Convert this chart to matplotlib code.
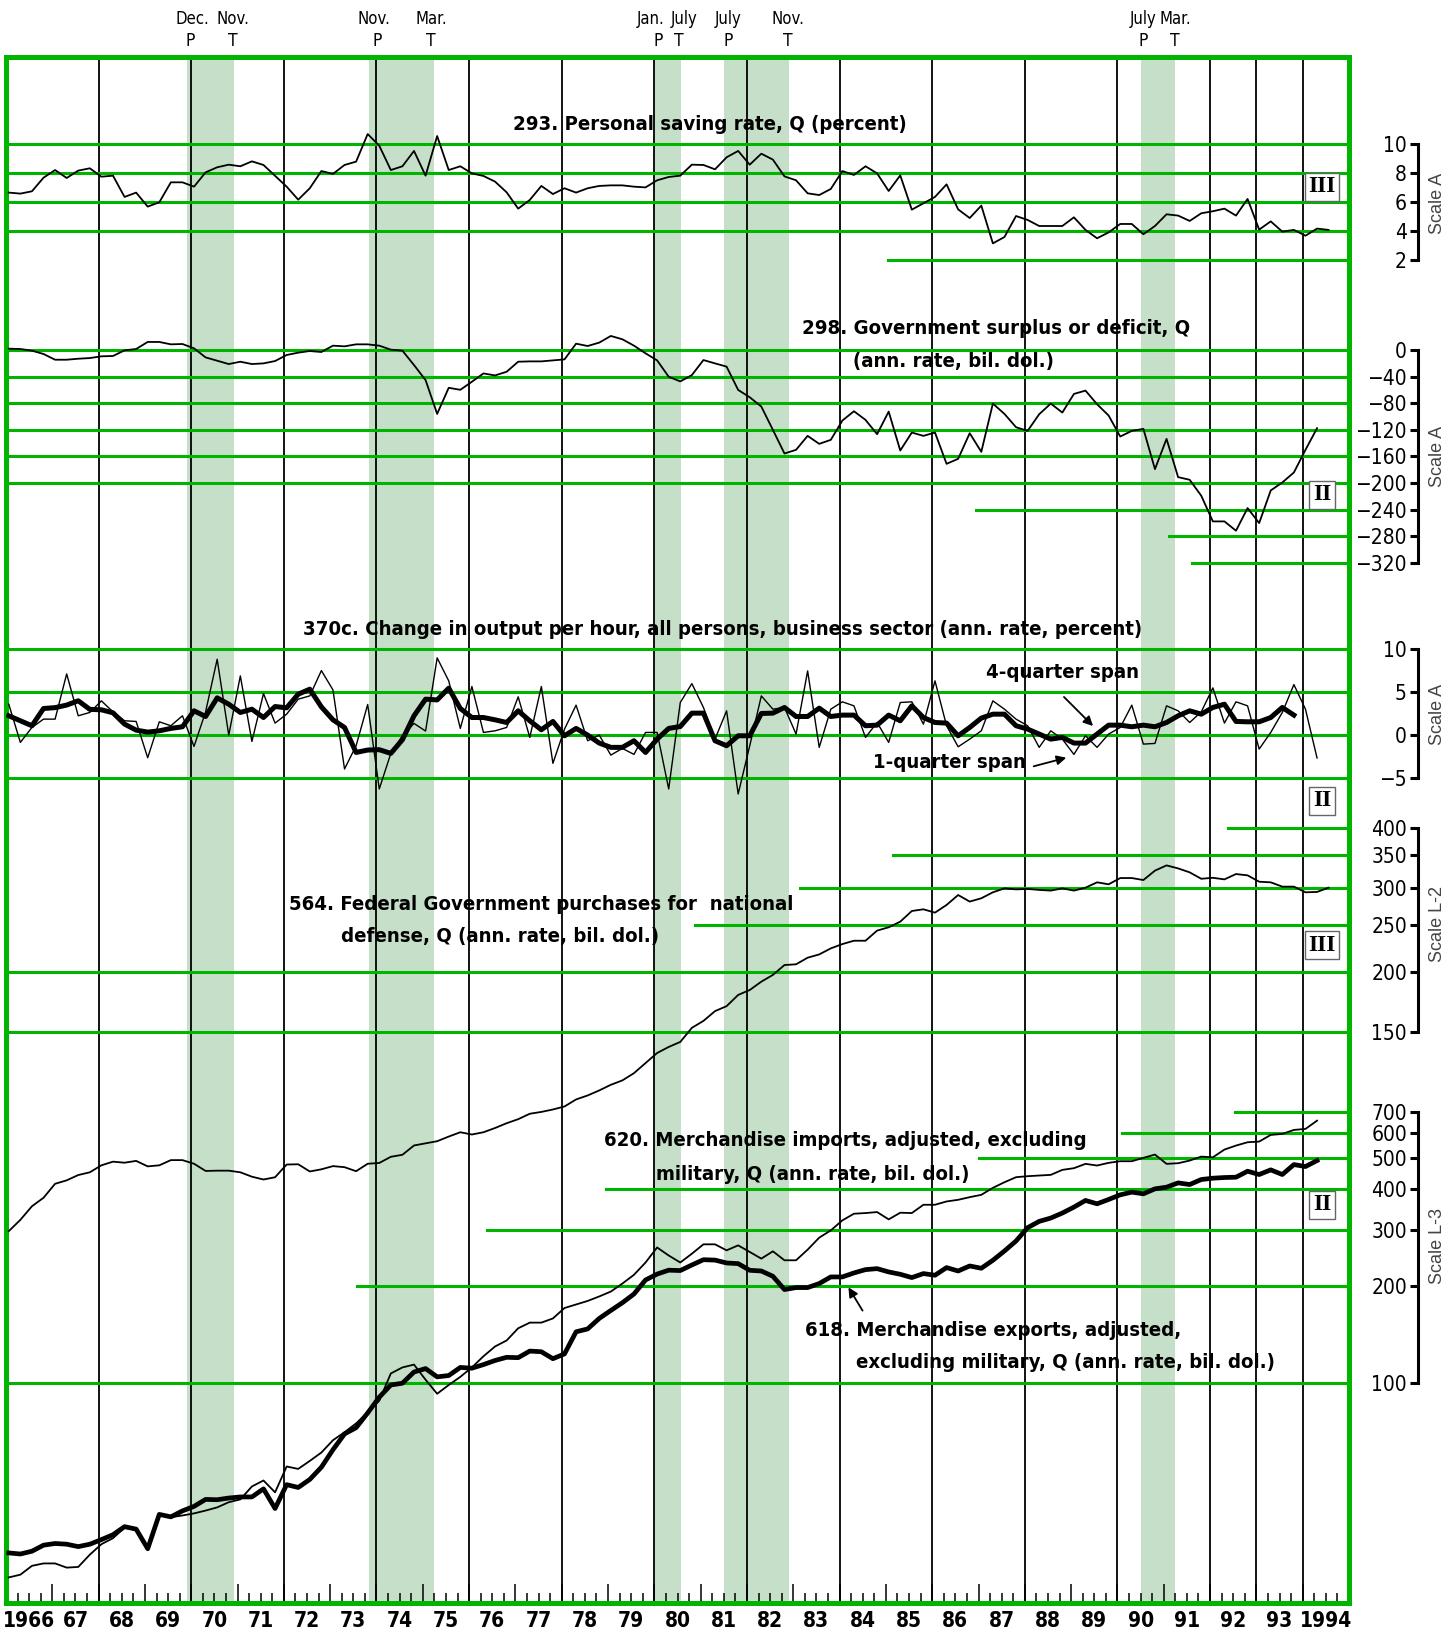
import os
import matplotlib.pyplot as plt
import matplotlib.transforms as mtransforms
from matplotlib import font_manager as fm
from matplotlib.ticker import NullLocator
import numpy as np

# ---- data: quarterly, starting 1966 Q1 ----
saving_rate = [6.64, 6.57, 6.73, 7.67, 8.2, 7.65, 8.16, 8.32, 7.74, 7.81, 6.34, 6.64,
               5.67, 5.97, 7.35, 7.35, 7.05, 8.04, 8.39, 8.57, 8.46, 8.8, 8.55, 7.8,
               7.05, 6.15, 6.94, 8.13, 7.93, 8.55, 8.78, 10.69, 9.88, 8.2, 8.46, 9.52,
               7.81, 10.55, 8.2, 8.46, 7.97, 7.79, 7.4, 6.66, 5.53, 6.13, 7.1, 6.54,
               6.94, 6.64, 6.94, 7.1, 7.14, 7.14, 7.05, 7.0, 7.49, 7.72, 7.81, 8.57,
               8.55, 8.25, 9.08, 9.52, 8.57, 9.33, 8.92, 7.76, 7.49, 6.59, 6.47, 6.89,
               8.13, 7.86, 8.46, 7.97, 6.75, 7.83, 5.46, 5.9, 6.34, 7.21, 5.48, 4.88,
               5.74, 3.13, 3.57, 5.02, 4.75, 4.33, 4.33, 4.33, 4.93, 4.06, 3.48, 3.89,
               4.47, 4.47, 3.76, 4.33, 5.14, 5.05, 4.68, 5.21, 5.35, 5.53, 5.05, 6.2,
               4.08, 4.65, 3.94, 4.06, 3.66, 4.15, 4.06]

gov_surplus = [2.0, 1.5, -1.0, -6.0, -14.6, -14.6, -13.1, -12.1, -9.5, -9.0, -0.5, 1.5,
               12.1, 12.1, 8.5, 9.0, 2.5, -11.1, -16.1, -21.1, -17.6, -21.1, -20.1, -16.6,
               -7.5, -4.0, -1.5, -3.0, 6.5, 5.5, 8.5, 8.5, 6.5, 0.5, -1.0, -22.6,
               -45.2, -96.0, -56.8, -59.8, -47.7, -35.2, -38.2, -32.7, -17.6, -17.1, -17.1, -15.6,
               -14.1, 9.5, 6.0, 11.1, 21.1, 16.1, 6.5, -5.0, -15.6, -40.2, -47.2, -37.7,
               -15.1, -20.1, -25, -60, -71, -85, -120, -155.5, -150, -129, -141, -135,
               -106, -92, -105, -126.5, -92.5, -151, -124, -129, -124, -171, -163.5, -125,
               -153, -80.5, -96, -116, -121.5, -96.5, -80.5, -94, -66, -61, -81.5, -98.5,
               -130, -121.5, -118.5, -179, -133.5, -191, -195, -219, -257.5, -257.5, -271.5, -237.5,
               -260, -211, -199, -184, -150, -117.5]

output_1q = [3.6, -0.85, 0.89, 1.86, 1.86, 7.13, 2.25, 2.64, 3.99, 2.71, 1.67, 1.59,
             -2.64, 1.55, 1.09, 2.25, -1.32, 2.71, 8.84, 0.0, 6.9, -0.74, 4.84, 1.4,
             2.44, 4.19, 4.57, 7.52, 5.27, -3.95, -1.24, 3.57, -6.28, -2.13, -0.08, 1.36,
             0.47, 9.0, 6.32, 0.78, 5.66, 0.31, 0.5, 0.89, 4.46, -0.27, 5.66, -3.29,
             0.7, 3.49, -0.66, 0.0, -2.33, -1.55, -2.25, 0.31, 0.31, -6.28, 3.8, 6.0,
             3.22, -0.47, 2.83, -6.86, -1.24, 4.57, 3.02, 3.22, 0.12, 7.48, -1.43, 3.02,
             3.88, 3.41, -0.27, 1.47, -0.85, 3.8, 3.88, 1.28, 6.32, 1.09, -1.36, -0.47,
             0.5, 3.99, 3.02, 1.86, 1.09, -1.43, 0.5, -0.47, -2.25, -0.08, -1.43, 0.12,
             0.89, 3.49, -1.05, -0.97, 3.41, 2.83, 1.47, 2.71, 5.5, 1.4, 3.88, 3.41,
             -1.63, 0.31, 2.64, 5.89, 3.02, -2.67]

output_4q = [2.25, 1.67, 1.09, 3.1, 3.2, 3.5, 4.0, 3.0, 2.95, 2.6, 1.28, 0.58,
             0.35, 0.5, 0.78, 0.97, 2.83, 2.17, 4.34, 3.6, 2.64, 3.02, 2.05, 3.33,
             3.18, 4.77, 5.35, 3.29, 1.78, 0.89, -2.02, -1.74, -1.7, -2.13, -0.54, 2.25,
             4.19, 4.1, 5.47, 3.1, 2.05, 2.05, 1.78, 1.47, 2.83, 1.67, 0.62, 1.59,
             -0.08, 0.78, 0.0, -0.93, -1.43, -1.43, -0.66, -2.02, -0.47, 0.78, 1.0, 2.56,
             2.56, -0.66, -1.24, -0.08, -0.08, 2.52, 2.56, 3.22, 2.17, 2.17, 3.14, 2.17,
             2.33, 2.33, 1.09, 1.16, 2.33, 1.67, 3.41, 2.05, 1.47, 1.4, -0.08, 0.89,
             1.98, 2.44, 2.44, 1.09, 0.7, 0.12, -0.47, -0.27, -0.93, -0.93, 0.12, 1.16,
             1.16, 0.97, 1.16, 0.97, 1.47, 2.25, 2.83, 2.44, 3.22, 3.6, 1.59, 1.55,
             1.55, 2.05, 3.22, 2.33]

defense = [57.5, 60.7, 64.8, 67.5, 72.2, 73.4, 75.3, 76.3, 78.9, 80.3, 79.9, 80.6,
           78.5, 78.9, 80.9, 80.9, 79.5, 76.8, 76.9, 76.9, 76.3, 74.7, 73.7, 74.5,
           79.2, 79.3, 76.6, 77.4, 78.6, 78.2, 76.7, 79.5, 79.8, 82.2, 83.0, 86.8,
           87.7, 88.6, 90.6, 92.5, 91.5, 92.5, 94.4, 96.6, 98.5, 101.1, 102.0, 103.2,
           104.7, 108.3, 110.4, 113.1, 116.2, 118.7, 122.9, 129.0, 135.4, 139.4, 142.8, 152.8,
           158.0, 165.6, 169.6, 179.0, 183.3, 190.8, 197.1, 206.7, 207.4, 214.1, 217.5, 223.9,
           228.6, 232.3, 232.3, 243.9, 247.8, 254.6, 268.0, 270.2, 265.9, 275.9, 289.4, 280.4,
           284.9, 293.2, 298.8, 297.4, 298.0, 296.6, 295.6, 298.8, 295.6, 299.8, 307.6, 304.7,
           314.0, 314.0, 311.0, 325.4, 333.7, 328.9, 322.7, 312.9, 314.4, 312.0, 320.1, 318.1,
           308.5, 307.6, 301.3, 301.3, 293.2, 293.7, 299.8]

exports = [29.45, 29.22, 29.81, 31.13, 31.51, 31.35, 30.81, 31.35, 32.4, 33.56, 35.56, 34.93,
           30.35, 38.83, 38.15, 39.82, 41.13, 43.24, 43.14, 43.67, 44.01, 44.01, 46.64, 40.51,
           48.07, 47.11, 49.9, 54.48, 61.76, 69.17, 72.35, 80.42, 90.07, 98.29, 99.56, 107.9,
           110.6, 104.2, 105.2, 111.5, 110.9, 113.8, 117.2, 119.9, 119.6, 125.4, 124.8, 118.7,
           122.9, 144.0, 147.0, 158.5, 167.8, 177.4, 188.9, 208.9, 217.9, 224.1, 223.5, 232.6,
           241.6, 240.9, 236.0, 234.9, 223.9, 222.8, 214.5, 195.0, 197.8, 197.8, 203.6, 213.5,
           213.5, 219.7, 225.0, 226.6, 221.3, 217.6, 212.5, 218.7, 216.1, 228.3, 222.8, 231.0,
           227.2, 240.6, 257.2, 276.3, 304.0, 318.1, 325.8, 337.7, 352.4, 369.7, 360.9, 372.3,
           384.9, 392.4, 387.7, 401.8, 406.6, 419.4, 414.4, 429.6, 433.7, 435.8, 436.8, 456.0,
           445.3, 460.4, 445.3, 478.3, 471.5, 492.2]

imports = [24.7, 25.19, 26.84, 27.31, 27.31, 26.5, 26.63, 29.08, 31.35, 32.73, 35.3, 34.7,
           30.6, 38.53, 38.04, 38.53, 39.11, 39.91, 40.83, 42.38, 43.24, 47.45, 49.53, 45.49,
           54.76, 53.82, 57.0, 60.53, 66.12, 70.04, 74.61, 80.84, 87.8, 106.8, 111.5, 113.8,
           102.1, 92.3, 98.3, 104.2, 111.5, 120.8, 129.6, 135.3, 147.7, 153.8, 153.8, 158.5,
           170.8, 175.2, 179.7, 185.6, 192.2, 203.6, 216.8, 236.8, 263.8, 249.0, 236.8, 252.2,
           269.8, 269.8, 258.4, 267.8, 255.4, 243.5, 256.6, 240.6, 240.6, 259.7, 283.0, 298.2,
           320.4, 336.1, 337.7, 340.1, 322.7, 338.5, 337.7, 358.4, 358.4, 367.0, 371.4, 378.5,
           384.9, 404.7, 421.3, 436.8, 440.0, 442.1, 444.2, 460.4, 466.0, 480.7, 475.0, 484.2,
           489.9, 489.9, 501.8, 513.9, 480.7, 482.9, 492.2, 506.4, 503.8, 532.6, 548.1, 561.4,
           564.1, 591.8, 596.0, 613.3, 617.7, 655.5]

# recessions (peak month start, trough month end)
recessions = [(1969 + 11/12, 1970 + 11/12), (1973 + 10/12, 1975 + 3/12),
              (1980.0, 1980 + 7/12), (1981 + 6/12, 1982 + 11/12), (1990 + 6/12, 1991 + 3/12)]
turn_labels = [("Dec.", "P", 192, 190), ("Nov.", "T", 233, 233), ("Nov.", "P", 374, 377),
               ("Mar.", "T", 431, 431), ("Jan.", "P", 651, 658), ("July", "T", 684, 679),
               ("July", "P", 728, 728), ("Nov.", "T", 788, 788), ("July", "P", 1143, 1143),
               ("Mar.", "T", 1175, 1175)]
year_lines = [1968, 1970, 1972, 1974, 1976, 1978, 1980, 1982, 1984, 1986, 1988, 1990,
              1992, 1993, 1994]
year_labels = ["1966"] + [f"{y % 100:02d}" for y in range(1967, 1994)] + ["1994"]

GREEN = "#00b400"
BAND = "#c6dfc8"
W, H = 1446, 1632
FL, FR, FT, FB = 6, 1349, 56.7, 1603      # frame edges in pixels
SCALE_X = 1418                            # right-hand scale bar, pixels


# look for a condensed sans face; fall back to Liberation Sans
def find_condensed(bold):
    bad = ["mono", "serif", "italic", "oblique", "light", "thin", "medium", "black",
           "semi", "extra", "ultra", "heavy"]
    prefer = ["liberationsansnarrow", "dejavusanscondensed", "notosans", "opensans",
              "roboto", "lato", "inter"]
    found = []
    for f in fm.fontManager.ttflist:
        n = os.path.basename(f.fname).lower()
        if not ("condensed" in n or "narrow" in n):
            continue
        if any(b in n for b in bad):
            continue
        if ("bold" in n) != bold:
            continue
        key = next((i for i, p in enumerate(prefer) if n.replace("-", "").replace("_", "").startswith(p)), 99)
        found.append((key, n, f.fname))
    found.sort()
    return found[0][2] if found else None


REG_FILE = find_condensed(False)
BOLD_FILE = find_condensed(True)


def font(size, bold=False):
    path = BOLD_FILE if bold else REG_FILE
    if path:
        return fm.FontProperties(fname=path, size=size)
    return fm.FontProperties(family="Liberation Sans", weight="bold" if bold else "normal",
                             size=size * 0.86)


def qx(n):
    return 1966 + 0.25 * np.arange(n) + 0.06


fig = plt.figure(figsize=(W / 100, H / 100), dpi=100)
rect = [FL / W, 1 - FB / H, (FR - FL) / W, (FB - FT) / H]

main = fig.add_axes(rect)
main.set_xlim(1966, 1995)
main.set_ylim(0, 1)
main.set_yticks([])
for s in main.spines.values():
    s.set_color(GREEN)
    s.set_linewidth(3.6)
for a, b in recessions:
    main.axvspan(a, b, color=BAND, lw=0, zorder=0)
for y in year_lines:
    main.axvline(y, color="black", lw=1.3, zorder=1)
main.set_xticks(range(1967, 1995))
main.set_xticks([y + q / 4 for y in range(1966, 1995) for q in (1, 2, 3)], minor=True)
main.tick_params(axis="x", which="major", direction="in", length=14, width=1.1,
                 labelbottom=False)
main.tick_params(axis="x", which="minor", direction="in", length=7, width=1.1)
tr = mtransforms.blended_transform_factory(main.transData, main.transAxes)
for i, lab in enumerate(year_labels):
    main.text(1966.5 + i, -(1621 - FB) / (FB - FT), lab, transform=tr, ha="center",
              va="center", fontproperties=font(15, bold=True))


def panel(v1, p1, v2, p2, ticks, log=False):
    ax = fig.add_axes(rect)
    ax.patch.set_visible(False)
    f = np.log10 if log else (lambda v: v)
    k = (f(v1) - f(v2)) / (p2 - p1)
    top = f(v1) + (p1 - FT) * k
    bot = f(v1) - (FB - p1) * k
    if log:
        ax.set_yscale("log")
        ax.set_ylim(10 ** bot, 10 ** top)
    else:
        ax.set_ylim(bot, top)
    ax.set_xlim(1966, 1995)
    ax.xaxis.set_visible(False)
    for s in ["top", "right", "bottom"]:
        ax.spines[s].set_visible(False)
    ax.spines["left"].set_position(("axes", (SCALE_X - FL) / (FR - FL)))
    ax.spines["left"].set_linewidth(2.2)
    ax.spines["left"].set_bounds(min(v1, v2), max(v1, v2))
    ax.set_yticks(ticks)
    ax.set_yticklabels([str(v).replace("-", "\u2212") for v in ticks])
    ax.yaxis.set_minor_locator(NullLocator())
    ax.tick_params(axis="y", direction="out", length=6, width=2.2, pad=2)
    for lab in ax.get_yticklabels():
        lab.set_fontproperties(font(15))
    return ax


def grid(ax, values, starts):
    for v, s in zip(values, starts):
        ax.axhline(v, xmin=(s - FL) / (FR - FL), color=GREEN, lw=2.2, zorder=1)


# 293 personal saving rate
ax1 = panel(10, 144, 2, 259.7, [2, 4, 6, 8, 10])
grid(ax1, [10, 8, 6, 4, 2], [FL, FL, FL, FL, 888])
ax1.plot(qx(len(saving_rate)), saving_rate, color="black", lw=1.3, zorder=3)

# 298 government surplus or deficit
ticks2 = list(range(-320, 1, 40))
ax2 = panel(0, 350, -320, 563, ticks2)
grid(ax2, ticks2[::-1], [FL] * 6 + [976, 1169, 1192])
ax2.plot(qx(len(gov_surplus)), gov_surplus, color="black", lw=1.3, zorder=3)

# 370c output per hour
ax3 = panel(10, 649.3, -5, 778, [-5, 0, 5, 10])
grid(ax3, [10, 5, 0, -5], [FL] * 4)
ax3.plot(qx(len(output_1q)), output_1q, color="black", lw=1.0, zorder=3)
ax3.plot(qx(len(output_4q)), output_4q, color="black", lw=3.6, zorder=4)

# 564 national defense purchases (log)
ax4 = panel(400, 827.7, 150, 1031.7, [150, 200, 250, 300, 350, 400], log=True)
grid(ax4, [400, 350, 300, 250, 200, 150], [1228, 893, 800, 695, FL, FL])
ax4.plot(qx(len(defense)), defense, color="black", lw=1.3, zorder=3)

# 618 / 620 exports and imports (log)
ax5 = panel(700, 1111.5, 100, 1382.6, [100, 200, 300, 400, 500, 600, 700], log=True)
grid(ax5, [700, 600, 500, 400, 300, 200, 100], [1235, 1122, 979, 606, 487, 357, FL])
ax5.plot(qx(len(imports)), imports, color="black", lw=1.3, zorder=3)
ax5.plot(qx(len(exports)), exports, color="black", lw=3.4, zorder=4)


def ftext(x, y, s, **kw):
    fig.text(x / W, 1 - y / H, s, **kw)


# scale names on the right
for name, y in [("Scale A", 203), ("Scale A", 456), ("Scale A", 714),
                ("Scale L-2", 924), ("Scale L-3", 1246)]:
    ftext(1437, y, name, rotation=90, ha="center", va="center", fontsize=13,
          color="#444444", family=["Liberation Sans", "DejaVu Sans"])

# latest-quarter boxes
for lab, y in [("III", 187), ("II", 495), ("II", 801), ("III", 945), ("II", 1205)]:
    ftext(1322, y, lab, ha="center", va="center", fontsize=17, fontweight="bold",
          family=["Liberation Serif", "DejaVu Serif"],
          bbox=dict(boxstyle="square,pad=0.15", fc="white", ec="#666666", lw=1))

# peak / trough labels
for m, pt, xm, xp in turn_labels:
    ftext(xm, 19, m, ha="center", va="center", fontproperties=font(12))
    ftext(xp, 41, pt, ha="center", va="center", fontproperties=font(12.5))

# series titles
tkw = dict(ha="left", va="center", fontproperties=font(14.6, bold=True))
ftext(513, 125, "293. Personal saving rate, Q (percent)", **tkw)
ftext(802, 329, "298. Government surplus or deficit, Q", **tkw)
ftext(853, 361, "(ann. rate, bil. dol.)", **tkw)
ftext(303, 630, "370c. Change in output per hour, all persons, business sector "
      "(ann. rate, percent)", **tkw)
ftext(986, 673, "4-quarter span", **tkw)
ftext(873, 762, "1-quarter span", **tkw)
ftext(289, 905, "564. Federal Government purchases for  national", **tkw)
ftext(341, 937, "defense, Q (ann. rate, bil. dol.)", **tkw)
ftext(604, 1141, "620. Merchandise imports, adjusted, excluding", **tkw)
ftext(656, 1174, "military, Q (ann. rate, bil. dol.)", **tkw)
ftext(805, 1330, "618. Merchandise exports, adjusted,", **tkw)
ftext(856, 1362, "excluding military, Q (ann. rate, bil. dol.)", **tkw)

# arrows
akw = dict(arrowstyle="-|>", lw=1.3, color="black", mutation_scale=14)
for (x1, y1), (x2, y2) in [((1062, 695), (1095, 728)),
                           ((1031, 767), (1069, 757)),
                           ((864, 1313), (847, 1285))]:
    main.annotate("", xy=(x2, H - y2), xytext=(x1, H - y1), xycoords="figure pixels",
                  textcoords="figure pixels", arrowprops=akw)

fig.savefig("out.png", dpi=100)
